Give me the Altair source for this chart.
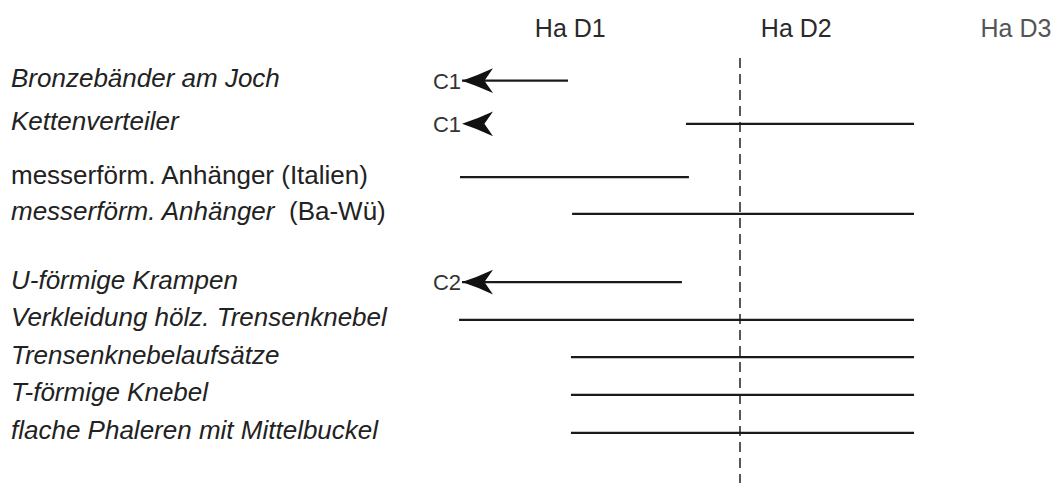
import altair as alt
import pandas as pd

# ---- data -------------------------------------------------------------
labels = ["Bronzebänder am Joch", "Kettenverteiler", "messerförm. Anhänger (Italien)",
          "messerförm. Anhänger", "U-förmige Krampen", "Verkleidung hölz. Trensenknebel",
          "Trensenknebelaufsätze", "T-förmige Knebel", "flache Phaleren mit Mittelbuckel"]
label_style = ["italic", "italic", "normal", "italic", "italic", "italic", "italic", "italic", "italic"]
label_suffix = ["", "", "", "(Ba-Wü)", "", "", "", "", ""]
rows = [1, 2.15, 3.57, 4.55, 6.37, 7.38, 8.37, 9.38, 10.39]

# time spans in phase units (Ha D1 = 1-2, Ha D2 = 2-3, Ha D3 = 3-4)
span_start = [1.031, 2.022, 1.022, 1.518, 1.031, 1.018, 1.513, 1.513, 1.513]
span_end = [1.5, 3.031, 2.035, 3.031, 2.004, 3.031, 3.031, 3.031, 3.031]

arrow_row = [1, 2.15, 6.37]
arrow_tip = [1.031, 1.031, 1.031]
arrow_label = ["C1", "C1", "C2"]

phases = ["Ha D1", "Ha D2", "Ha D3"]
phase_center = [1.51, 2.51, 3.482]
phase_color = ["#2a2a2a", "#2a2a2a", "#555555"]

boundary = [2.261]

# ---- tables -----------------------------------------------------------
lab_df = pd.DataFrame({"label": labels, "style": label_style, "suffix": label_suffix, "row": rows})
span_df = pd.DataFrame({"row": rows, "start": span_start, "end": span_end})
arrow_df = pd.DataFrame({"row": arrow_row, "tip": arrow_tip, "c": arrow_label})
phase_df = pd.DataFrame({"phase": phases, "x": phase_center, "color": phase_color})
bound_df = pd.DataFrame({"x": boundary})

xscale = alt.Scale(domain=[-0.978, 3.646], nice=False, zero=False)
yscale = alt.Scale(domain=[-0.939, 11.728], reverse=True, nice=False, zero=False)
FONT = "Liberation Sans"

spans = alt.Chart(span_df).mark_rule(strokeWidth=2.3, color="#1a1a1a").encode(
    x=alt.X("start:Q", scale=xscale, axis=None),
    x2="end:Q",
    y=alt.Y("row:Q", scale=yscale, axis=None),
)

head_path = "M0,0 Q0.75,-0.25 1.55,-0.62 L1.12,0 L1.55,0.62 Q0.75,0.25 0,0 Z"
heads = alt.Chart(arrow_df).mark_point(
    shape=head_path, size=1600, filled=True, fill="#111111", strokeWidth=0, opacity=1
).encode(
    x=alt.X("tip:Q", scale=xscale, axis=None),
    y=alt.Y("row:Q", scale=yscale, axis=None),
)

clabels = alt.Chart(arrow_df).mark_text(
    align="right", baseline="alphabetic", dx=-1, dy=8, fontSize=22, font=FONT, color="#333333"
).encode(
    x=alt.X("tip:Q", scale=xscale, axis=None),
    y=alt.Y("row:Q", scale=yscale, axis=None),
    text="c:N",
)

lab_italic = alt.Chart(lab_df).transform_filter("datum.style == 'italic'").mark_text(
    align="left", baseline="alphabetic", dy=6.5, fontSize=26, font=FONT, fontStyle="italic", color="#222222"
).encode(
    x=alt.value(3),
    y=alt.Y("row:Q", scale=yscale, axis=None),
    text="label:N",
)

lab_normal = alt.Chart(lab_df).transform_filter("datum.style == 'normal'").mark_text(
    align="left", baseline="alphabetic", dy=6.5, fontSize=26, font=FONT, color="#222222"
).encode(
    x=alt.value(3),
    y=alt.Y("row:Q", scale=yscale, axis=None),
    text="label:N",
)

lab_suffix = alt.Chart(lab_df).transform_filter("datum.suffix != ''").mark_text(
    align="left", baseline="alphabetic", dy=6.5, fontSize=26, font=FONT, color="#222222"
).encode(
    x=alt.value(281),
    y=alt.Y("row:Q", scale=yscale, axis=None),
    text="suffix:N",
)

phase_text = alt.Chart(phase_df).mark_text(
    align="center", baseline="alphabetic", fontSize=25, font=FONT
).encode(
    x=alt.X("x:Q", scale=xscale, axis=None),
    y=alt.value(29),
    text="phase:N",
    color=alt.Color("color:N", scale=None),
)

bound = alt.Chart(bound_df).mark_rule(strokeDash=[10, 6], strokeWidth=1.4, color="#111111").encode(
    x=alt.X("x:Q", scale=xscale, axis=None),
    y=alt.value(50),
    y2=alt.value(490),
)

chart = alt.layer(bound, spans, heads, clabels, lab_italic, lab_normal, lab_suffix, phase_text).properties(
    width=1045, height=475,
    autosize=alt.AutoSizeParams(type="none"),
    padding=0,
    background="white",
).configure_view(stroke=None)

chart.save("out.html", embed_options={"renderer": "svg", "actions": False})
